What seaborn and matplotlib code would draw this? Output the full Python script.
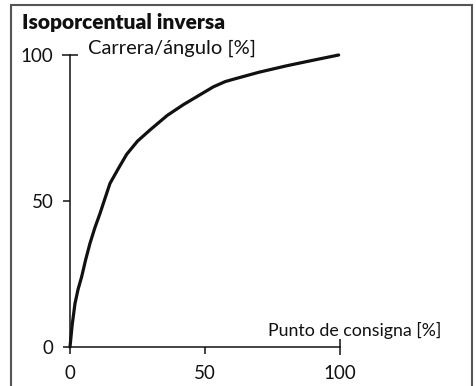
import matplotlib
matplotlib.use("Agg")
import matplotlib.pyplot as plt
from matplotlib.patches import Rectangle
import seaborn as sns
import pandas as pd

# Inverse equal-percentage characteristic
setpoint = [0, 0.8, 1.85, 3, 4.3, 5.8, 7.4, 9.2, 11.1, 13, 14.8, 17.9, 21, 25, 29.6, 36, 42, 48, 53.1, 57.5, 61.7, 70, 80.2, 90, 99.5]
travel = [0, 7.5, 14.9, 19.8, 24, 29.9, 35.5, 40.8, 45.7, 51, 56, 61.1, 66, 70.5, 74.3, 79.3, 83, 86.3, 89.1, 90.9, 92, 94.1, 96.3, 98.2, 100]

title = "Isoporcentual inversa"
ylabel = "Carrera/ángulo [%]"
xlabel = "Punto de consigna [%]"
tick_values = [0, 50]
end_tick = [100]

sns.set_theme(style="white")
plt.rcParams["font.family"] = ["Lato", "DejaVu Sans"]

df = pd.DataFrame({"setpoint": setpoint, "travel": travel})

fig = plt.figure(figsize=(4.77, 3.86), dpi=100)
W, H = 477, 386
ax = fig.add_axes([70 / W, 1 - 347 / H, 270 / W, 292 / H])
ax.patch.set_alpha(0)

sns.lineplot(data=df, x="setpoint", y="travel", ax=ax, color="#111111",
             linewidth=2.3, clip_on=False)
ax.lines[0].set_solid_joinstyle("round")

ax.set_xlim(0, 100)
ax.set_ylim(0, 100)
ax.set_xlabel("")
ax.set_ylabel("")
for s in ["top", "right"]:
    ax.spines[s].set_visible(False)
for s in ["left", "bottom"]:
    ax.spines[s].set_color("#111111")
    ax.spines[s].set_linewidth(1.1)

ax.set_xticks(tick_values)
ax.set_yticks(tick_values)
ax.set_xticks(end_tick, minor=True)
ax.set_yticks(end_tick, minor=True)
ax.set_xticklabels([str(v) for v in tick_values])
ax.set_yticklabels([str(v) for v in tick_values])
ax.set_xticklabels([str(v) for v in end_tick], minor=True)
ax.set_yticklabels([str(v) for v in end_tick], minor=True)
ax.tick_params(which="both", bottom=True, left=True, top=False, right=False)
ax.tick_params(which="major", direction="out", length=5, width=1.1,
               color="#111111", labelsize=13.5, labelcolor="#111111")
ax.tick_params(which="minor", direction="inout", length=12, width=1.1,
               color="#111111", labelsize=13.5, labelcolor="#111111")
ax.tick_params(axis="x", which="major", pad=8)
ax.tick_params(axis="x", which="minor", pad=7)
ax.tick_params(axis="y", which="major", pad=7)
ax.tick_params(axis="y", which="minor", pad=6)

fig.text(88 / W, 1 - 48 / H, ylabel, fontsize=14.5,
         color="#111111", ha="left", va="center")
fig.text(441 / W, 1 - 330 / H, xlabel, fontsize=12.8,
         color="#111111", ha="right", va="center")
fig.text(22 / W, 1 - 22 / H, title, fontsize=15, fontweight="heavy",
         color="#111111", ha="left", va="center")

fig.patches.append(Rectangle((11 / W, -0.05), 461 / W, 1.05 - 5 / H,
                             transform=fig.transFigure, fill=False,
                             edgecolor="#555555", linewidth=1.5))

fig.savefig("out.png", dpi=100)
